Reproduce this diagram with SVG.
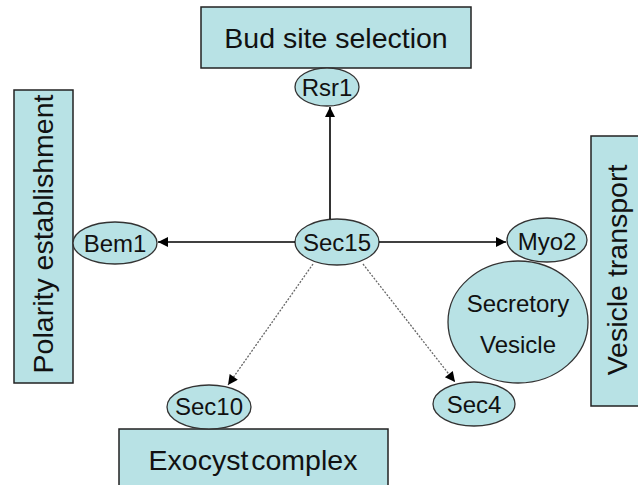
<svg xmlns="http://www.w3.org/2000/svg" width="638" height="485" viewBox="0 0 638 485">
<style>
.box{fill:#b8e2e5;stroke:#222;stroke-width:1.5}
.nd{fill:#b8e2e5;stroke:#333;stroke-width:1.3}
.big{font-family:"Liberation Sans",Arial,sans-serif;font-size:28.5px;fill:#111;text-anchor:middle}
.sm{font-family:"Liberation Sans",Arial,sans-serif;font-size:24px;fill:#111;text-anchor:middle}
.solid{stroke:#000;stroke-width:1.6;fill:none}
.dash{stroke:#666;stroke-width:1.3;stroke-dasharray:2 1.5;fill:none}
</style>
<defs>
<marker id="ah" viewBox="0 0 10 10" refX="10" refY="5" markerWidth="12" markerHeight="10" markerUnits="userSpaceOnUse" orient="auto">
<path d="M0,0 L10,5 L0,10 z" fill="#000"/>
</marker>
</defs>
<g id="bud-site-selection"><rect class="box" x="201" y="7" width="270" height="61"/><text class="big" x="336" y="48">Bud site selection</text></g>
<g id="polarity-establishment"><rect class="box" x="14" y="90" width="59" height="293"/><text class="big" transform="translate(53,234) rotate(-90)">Polarity establishment</text></g>
<g id="vesicle-transport"><rect class="box" x="591" y="136" width="50" height="270"/><text class="big" transform="translate(627,270) rotate(-90)">Vesicle transport</text></g>
<g id="exocyst-complex"><rect class="box" x="119" y="429" width="269" height="60"/><text class="big" x="253" y="470" word-spacing="-5">Exocyst complex</text></g>
<g id="secretory-vesicle"><ellipse class="nd" cx="518" cy="322" rx="70" ry="61"/><text class="sm" x="518" y="312">Secretory</text><text class="sm" x="518" y="353">Vesicle</text></g>
<g id="rsr1"><ellipse class="nd" cx="327" cy="87" rx="32" ry="19"/><text class="sm" x="327" y="96">Rsr1</text></g>
<g id="bem1"><ellipse class="nd" cx="115" cy="243" rx="42" ry="21"/><text class="sm" x="115" y="252">Bem1</text></g>
<g id="sec15"><ellipse class="nd" cx="337" cy="242" rx="42" ry="23"/><text class="sm" x="337" y="251">Sec15</text></g>
<g id="myo2"><ellipse class="nd" cx="547" cy="240" rx="40" ry="22"/><text class="sm" x="547" y="250">Myo2</text></g>
<g id="sec10"><ellipse class="nd" cx="209" cy="407" rx="42" ry="22"/><text class="sm" x="209" y="415">Sec10</text></g>
<g id="sec4"><ellipse class="nd" cx="474" cy="404" rx="41" ry="22"/><text class="sm" x="474" y="413">Sec4</text></g>
<g id="connectors">
<line class="solid" x1="330" y1="219" x2="330" y2="107" marker-end="url(#ah)"/>
<line class="solid" x1="295" y1="242" x2="158" y2="242" marker-end="url(#ah)"/>
<line class="solid" x1="379" y1="242" x2="506" y2="242" marker-end="url(#ah)"/>
<line class="dash" x1="313" y1="264" x2="228" y2="385" marker-end="url(#ah)"/>
<line class="dash" x1="363" y1="264" x2="455" y2="382" marker-end="url(#ah)"/>
</g>
</svg>
